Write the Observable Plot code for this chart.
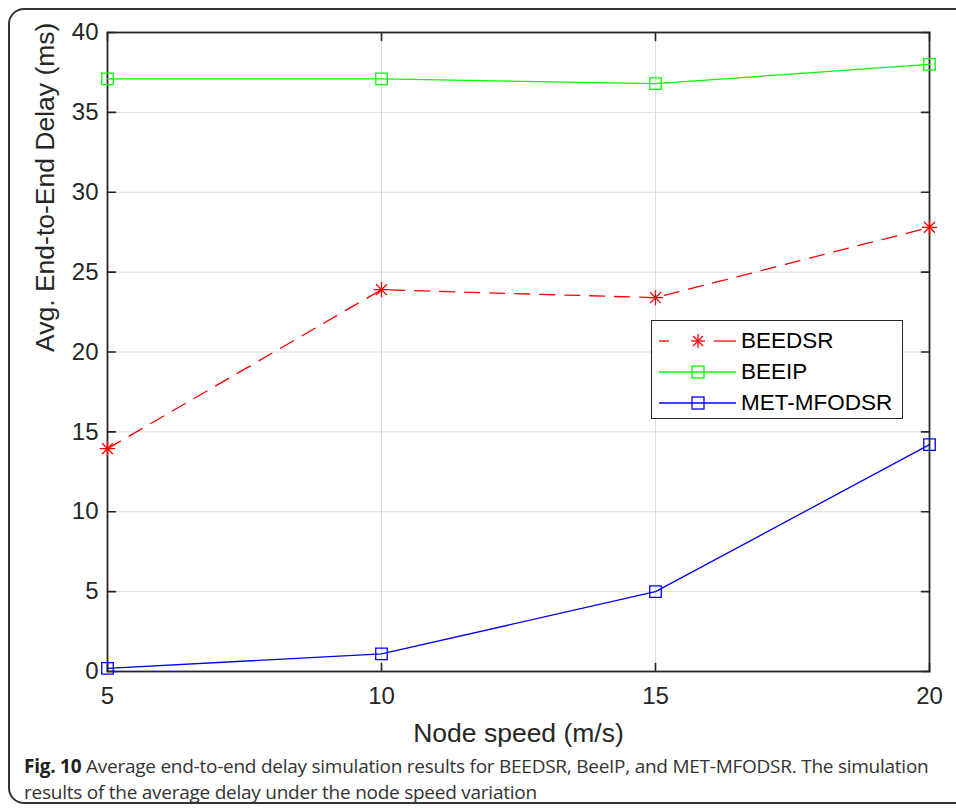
<!DOCTYPE html>
<html>
<head>
<meta charset="utf-8">
<script src="https://cdn.jsdelivr.net/npm/d3@7"></script>
<script src="https://cdn.jsdelivr.net/npm/@observablehq/plot@0.6"></script>
<style>
  html, body { margin: 0; padding: 0; background: #fff; }
  #wrap { position: relative; width: 956px; height: 812px; overflow: hidden; background: #fff; }
  #border { position: absolute; left: 8px; top: 8px; width: 1000px; height: 796px; border: 2px solid #333; border-radius: 16px; box-sizing: border-box; }
  #chart { position: absolute; left: 0; top: 0; }
  #legend { position: absolute; left: 651px; top: 320px; width: 252px; height: 99px; border: 1px solid #262626; background: #fff; box-sizing: border-box; font-family: "Liberation Sans", Arial, sans-serif; font-size: 22.5px; color: #000; }
  .lg-row { position: absolute; left: 0; height: 30px; width: 250px; }
  .lg-row svg { position: absolute; left: 0; top: 0; }
  .lg-row span { position: absolute; left: 89px; top: 2px; line-height: 26px; }
  #caption { position: absolute; left: 24px; top: 753px; width: 930px; font-family: "Open Sans", "Noto Sans", sans-serif; font-size: 19px; line-height: 26px; color: #333; letter-spacing: -0.25px; }
  #caption div { white-space: nowrap; }
  #caption b { font-weight: 700; color: #222; }
</style>
</head>
<body>
<div id="wrap">
  <div id="border"></div>
  <div id="chart"></div>
  <div id="legend"></div>
  <div id="caption"><div><b>Fig. 10</b> Average end-to-end delay simulation results for BEEDSR, BeeIP, and MET-MFODSR. The simulation</div><div>results of the average delay under the node speed variation</div></div>
</div>
<script>
// ---- data ----
const speeds = [5, 10, 15, 20];
const beedsr = [13.95, 23.9, 23.4, 27.8];
const beeip = [37.1, 37.1, 36.8, 38.0];
const metMfodsr = [0.2, 1.1, 5.0, 14.2];
const seriesNames = ["BEEDSR", "BEEIP", "MET-MFODSR"];
const seriesColors = ["#ff0000", "#00ff00", "#0000ff"];
const xTicks = [5, 10, 15, 20];
const yTicks = [0, 5, 10, 15, 20, 25, 30, 35, 40];
const xLabel = "Node speed (m/s)";
const yLabel = "Avg. End-to-End Delay (ms)";

const rows = (vals, name) => speeds.map((s, i) => ({speed: s, value: vals[i], series: name}));
const dBEEDSR = rows(beedsr, seriesNames[0]);
const dBEEIP = rows(beeip, seriesNames[1]);
const dMET = rows(metMfodsr, seriesNames[2]);

const tickShape = { draw(context, l) { context.moveTo(0, 0); context.lineTo(0, -l); } };
const ink = "#262626";
const tickFont = "Liberation Sans, Arial, sans-serif";

const chart = Plot.plot({
  width: 956,
  height: 750,
  marginLeft: 107,
  marginRight: 27,
  marginTop: 32,
  marginBottom: 79,
  style: { fontFamily: tickFont, background: "transparent", color: ink },
  x: { domain: [5, 20] },
  y: { domain: [0, 40] },
  marks: [
    Plot.gridX(xTicks, { stroke: "#dcdcdc", strokeOpacity: 1, strokeWidth: 1 }),
    Plot.gridY(yTicks, { stroke: "#dcdcdc", strokeOpacity: 1, strokeWidth: 1 }),
    // inward ticks on all four sides
    Plot.vector(xTicks, { x: d => d, y: 0, length: 8, rotate: 0, anchor: "start", shape: tickShape, stroke: ink, strokeWidth: 1.6 }),
    Plot.vector(xTicks, { x: d => d, y: 40, length: 8, rotate: 180, anchor: "start", shape: tickShape, stroke: ink, strokeWidth: 1.6 }),
    Plot.vector(yTicks, { x: 5, y: d => d, length: 8, rotate: 90, anchor: "start", shape: tickShape, stroke: ink, strokeWidth: 1.6 }),
    Plot.vector(yTicks, { x: 20, y: d => d, length: 8, rotate: -90, anchor: "start", shape: tickShape, stroke: ink, strokeWidth: 1.6 }),
    Plot.axisX(xTicks, { anchor: "bottom", tickSize: 0, tickPadding: 15, fontSize: 24, label: null, color: ink }),
    Plot.axisY(yTicks, { anchor: "left", tickSize: 0, tickPadding: 9, fontSize: 24, label: null, color: ink }),
    Plot.text([xLabel], { frameAnchor: "bottom", dy: 62, fontSize: 26.5, fill: ink, lineAnchor: "middle" }),
    Plot.text([yLabel], { frameAnchor: "left", dx: -62, rotate: -90, fontSize: 26.5, fill: ink, lineAnchor: "middle" }),
    Plot.frame({ stroke: ink, strokeWidth: 1.8 }),
    // series
    Plot.line(dBEEIP, { x: "speed", y: "value", stroke: seriesColors[1], strokeWidth: 1.3 }),
    Plot.dot(dBEEIP, { x: "speed", y: "value", symbol: "square", r: 6.5, stroke: seriesColors[1], strokeWidth: 1.3, fill: "none" }),
    Plot.line(dBEEDSR, { x: "speed", y: "value", stroke: seriesColors[0], strokeWidth: 1.3, strokeDasharray: "15,10" }),
    Plot.dot(dBEEDSR, { x: "speed", y: "value", symbol: "plus", r: 5, stroke: seriesColors[0], strokeWidth: 1.3 }),
    Plot.dot(dBEEDSR, { x: "speed", y: "value", symbol: "times", r: 5, stroke: seriesColors[0], strokeWidth: 1.3 }),
    Plot.line(dMET, { x: "speed", y: "value", stroke: seriesColors[2], strokeWidth: 1.3 }),
    Plot.dot(dMET, { x: "speed", y: "value", symbol: "square", r: 6.5, stroke: seriesColors[2], strokeWidth: 1.3, fill: "none" })
  ]
});
document.getElementById("chart").appendChild(chart);

// ---- legend ----
const legend = document.getElementById("legend");
const rowTops = [5, 36, 67];
seriesNames.forEach((name, i) => {
  const row = document.createElement("div");
  row.className = "lg-row";
  row.style.top = rowTops[i] + "px";
  const c = seriesColors[i];
  let sample;
  if (i === 0) {
    sample = `<line x1="7" y1="15" x2="17" y2="15" stroke="${c}" stroke-width="1.3"/>
      <line x1="62" y1="15" x2="84" y2="15" stroke="${c}" stroke-width="1.3"/>
      <g stroke="${c}" stroke-width="1.3"><line x1="39" y1="15" x2="53" y2="15"/><line x1="46" y1="8" x2="46" y2="22"/><line x1="41" y1="10" x2="51" y2="20"/><line x1="41" y1="20" x2="51" y2="10"/></g>`;
  } else {
    sample = `<line x1="7" y1="15" x2="84" y2="15" stroke="${c}" stroke-width="1.3"/>
      <rect x="40" y="9" width="12" height="12" fill="none" stroke="${c}" stroke-width="1.3"/>`;
  }
  row.innerHTML = `<svg width="90" height="30">${sample}</svg><span>${name}</span>`;
  legend.appendChild(row);
});
</script>
</body>
</html>
